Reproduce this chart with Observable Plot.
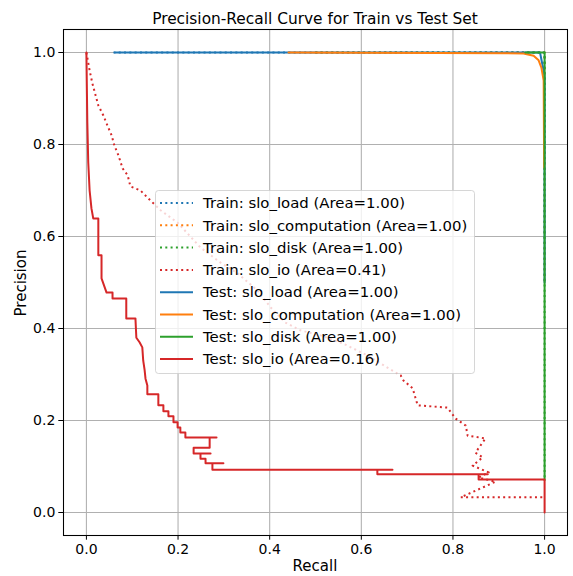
<!DOCTYPE html>
<html><head><meta charset="utf-8">
<script src="https://cdn.jsdelivr.net/npm/d3@7"></script>
<script src="https://cdn.jsdelivr.net/npm/@observablehq/plot@0.6"></script>
<style>body{margin:0;background:#fff;font-family:"DejaVu Sans",sans-serif;}</style>
</head><body><div id="chart"></div>
<script>
const xTicks = [0, 0.2, 0.4, 0.6, 0.8, 1.0];
const yTicks = [0, 0.2, 0.4, 0.6, 0.8, 1.0];
const seriesNames = ["slo_load", "slo_computation", "slo_disk", "slo_io"];
const colors = ["#1f77b4", "#ff7f0e", "#2ca02c", "#d62728"];
const trainArea = [1.00, 1.00, 1.00, 0.41];
const testArea = [1.00, 1.00, 1.00, 0.16];

// Train curves
const trainLoadRecall = [0.059, 1.0, 1.0];
const trainLoadPrecision = [1.0, 1.0, 0.5];
const trainCompRecall = [0.5, 1.0, 1.0];
const trainCompPrecision = [1.0, 1.0, 0.5];
const trainDiskRecall = [0.5, 1.0, 1.0];
const trainDiskPrecision = [1.0, 1.0, 0.07];
const trainIoRecall = [0.000, 0.007, 0.013, 0.020, 0.026, 0.037, 0.046, 0.055, 0.061, 0.070, 0.079, 0.090, 0.096, 0.118, 0.135, 0.162, 0.199, 0.249, 0.293, 0.330, 0.373, 0.402, 0.434, 0.467, 0.511, 0.561, 0.614, 0.657, 0.686, 0.692, 0.712, 0.723, 0.788, 0.806, 0.828, 0.832, 0.871, 0.849, 0.865, 0.843, 0.878, 0.856, 0.893, 0.817, 0.893, 0.998];
const trainIoPrecision = [1.000, 0.961, 0.933, 0.907, 0.885, 0.863, 0.841, 0.820, 0.798, 0.776, 0.748, 0.733, 0.709, 0.700, 0.683, 0.657, 0.630, 0.576, 0.543, 0.520, 0.483, 0.446, 0.413, 0.396, 0.385, 0.367, 0.341, 0.315, 0.298, 0.287, 0.270, 0.233, 0.228, 0.204, 0.189, 0.167, 0.161, 0.130, 0.120, 0.102, 0.087, 0.076, 0.067, 0.033, 0.033, 0.033];

// Test curves
const testLoadRecall = [0.062, 0.99, 1.0, 1.0];
const testLoadPrecision = [1.0, 1.0, 0.95, 0.5];
const testCompRecall = [0.441, 0.954, 0.976, 0.987, 0.993, 0.998, 0.999];
const testCompPrecision = [1.0, 0.998, 0.993, 0.983, 0.967, 0.939, 0.75];
const testDiskRecall = [0.958, 1.0, 1.0];
const testDiskPrecision = [1.0, 1.0, 0.07];
const testIoRecall = [0.000, 0.002, 0.004, 0.007, 0.011, 0.015, 0.026, 0.026, 0.033, 0.033, 0.044, 0.057, 0.057, 0.087, 0.087, 0.107, 0.109, 0.116, 0.122, 0.124, 0.127, 0.129, 0.133, 0.133, 0.157, 0.157, 0.168, 0.168, 0.179, 0.179, 0.190, 0.190, 0.199, 0.199, 0.205, 0.205, 0.216, 0.216, 0.284, 0.269, 0.269, 0.234, 0.234, 0.271, 0.249, 0.249, 0.260, 0.260, 0.299, 0.275, 0.275, 0.668, 0.635, 0.635, 0.876, 0.856, 0.856, 1.000, 1.000];
const testIoPrecision = [1.000, 0.848, 0.761, 0.700, 0.661, 0.639, 0.639, 0.559, 0.559, 0.509, 0.478, 0.478, 0.465, 0.465, 0.422, 0.422, 0.380, 0.370, 0.359, 0.330, 0.310, 0.291, 0.276, 0.257, 0.257, 0.233, 0.233, 0.220, 0.220, 0.209, 0.209, 0.196, 0.196, 0.185, 0.185, 0.174, 0.174, 0.163, 0.163, 0.163, 0.141, 0.141, 0.128, 0.128, 0.128, 0.117, 0.117, 0.107, 0.107, 0.107, 0.093, 0.093, 0.093, 0.083, 0.083, 0.083, 0.072, 0.072, 0.000];

const mk = (r, p) => r.map((x, i) => ({recall: x, precision: p[i]}));
const trainSets = [mk(trainLoadRecall, trainLoadPrecision), mk(trainCompRecall, trainCompPrecision), mk(trainDiskRecall, trainDiskPrecision), mk(trainIoRecall, trainIoPrecision)];
const testSets = [mk(testLoadRecall, testLoadPrecision), mk(testCompRecall, testCompPrecision), mk(testDiskRecall, testDiskPrecision), mk(testIoRecall, testIoPrecision)];

const DOT = "2,3.3";
const marks = [
  Plot.gridX(xTicks, {stroke: "#b0b0b0", strokeOpacity: 1, strokeWidth: 1.07}),
  Plot.gridY(yTicks, {stroke: "#b0b0b0", strokeOpacity: 1, strokeWidth: 1.07}),
  ...trainSets.map((d, i) => Plot.line(d, {x: "recall", y: "precision", stroke: colors[i], strokeWidth: 2, strokeDasharray: DOT, strokeLinecap: "butt"})),
  ...testSets.map((d, i) => Plot.line(d, {x: "recall", y: "precision", stroke: colors[i], strokeWidth: 2})),
  Plot.frame({stroke: "black", strokeWidth: 1.07}),
  Plot.axisX({ticks: xTicks, tickFormat: d => d.toFixed(1), tickSize: 4.7, tickPadding: 3.5, label: null, stroke: "black", fill: "black", fontSize: 14}),
  Plot.axisY({ticks: yTicks, tickFormat: d => d.toFixed(1), tickSize: 4.7, tickPadding: 3.5, label: null, stroke: "black", fill: "black", fontSize: 14})
];

const svg = Plot.plot({
  width: 573, height: 576,
  marginLeft: 63, marginRight: 6, marginTop: 29, marginBottom: 41,
  x: {domain: [-0.05, 1.05]},
  y: {domain: [-0.05, 1.05]},
  style: {fontFamily: "DejaVu Sans", fontSize: "14px", background: "white", color: "black"},
  marks
});
document.getElementById("chart").appendChild(svg);

const s = d3.select(svg);
s.append("text").attr("x", 315).attr("y", 24).attr("text-anchor", "middle")
  .attr("font-size", 15.4).attr("fill", "black").text("Precision-Recall Curve for Train vs Test Set");
s.append("text").attr("x", 315).attr("y", 571).attr("text-anchor", "middle")
  .attr("font-size", 15).attr("fill", "black").text("Recall");
s.append("text").attr("transform", "translate(26,283) rotate(-90)").attr("text-anchor", "middle")
  .attr("font-size", 15).attr("fill", "black").text("Precision");

const lg = s.append("g");
lg.append("rect").attr("x", 155.5).attr("y", 190.5).attr("width", 319).attr("height", 183).attr("rx", 3)
  .attr("fill", "white").attr("fill-opacity", 0.8).attr("stroke", "#cccccc").attr("stroke-opacity", 0.8);
const entries = [
  ...seriesNames.map((n, i) => ({label: `Train: ${n} (Area=${trainArea[i].toFixed(2)})`, color: colors[i], dash: DOT})),
  ...seriesNames.map((n, i) => ({label: `Test: ${n} (Area=${testArea[i].toFixed(2)})`, color: colors[i], dash: null}))
];
entries.forEach((e, i) => {
  const y = 203 + i * 22.3;
  const ln = lg.append("line").attr("x1", 160).attr("x2", 193).attr("y1", y).attr("y2", y)
    .attr("stroke", e.color).attr("stroke-width", 2);
  if (e.dash) ln.attr("stroke-dasharray", e.dash);
  lg.append("text").attr("x", 203).attr("y", y).attr("dy", "0.35em").attr("font-size", 14.9)
    .attr("text-anchor", "start").attr("fill", "black").text(e.label);
});
</script>
</body></html>
